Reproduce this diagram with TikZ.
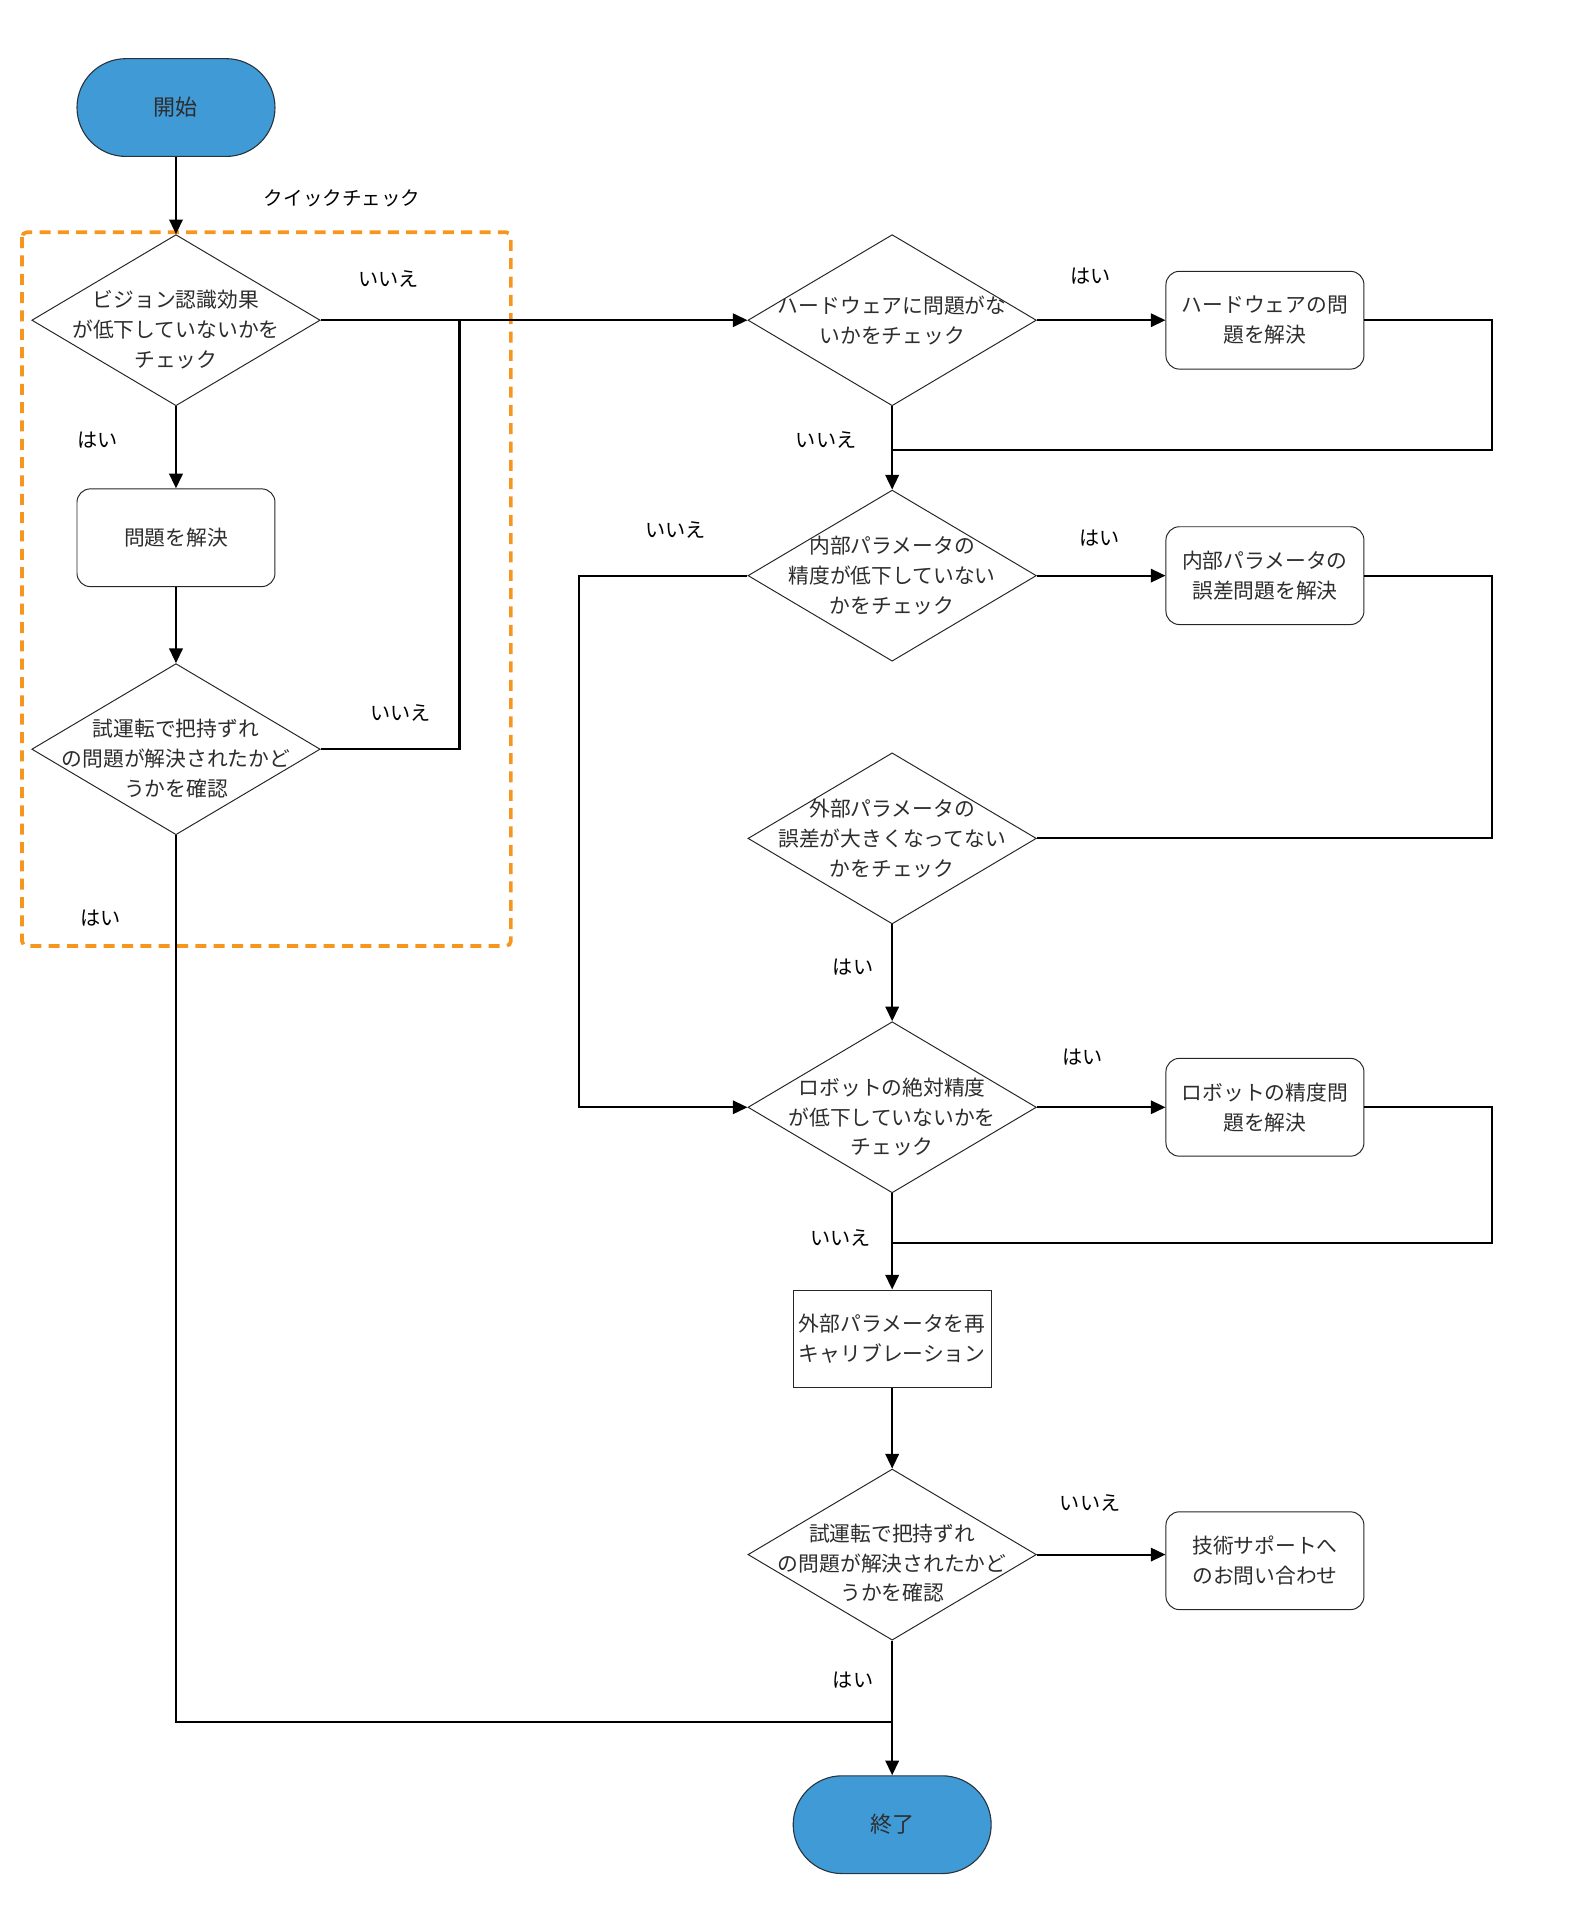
\documentclass[tikz,border=0pt]{standalone}
\usepackage{fontspec}
\setmainfont{Noto Sans CJK JP}
\usetikzlibrary{shapes.geometric,arrows.meta}
\definecolor{termblue}{RGB}{64,154,214}
\definecolor{termedge}{RGB}{40,52,62}
\definecolor{qorange}{RGB}{247,150,30}
\definecolor{txtgray}{RGB}{45,45,45}
\tikzset{
  conn/.style={line width=1.7pt, black},
  arr/.style={conn, -{Triangle[length=12pt,width=11pt]}},
  dia/.style={draw=black!85, line width=0.8pt, diamond, minimum width=236pt, minimum height=140pt, inner sep=0pt, fill=white},
  ntext/.style={align=center, text=txtgray, font=\fontsize{17}{24.5}\selectfont, inner sep=0pt},
  rbox/.style={draw=black!85, line width=0.8pt, rectangle, rounded corners=11pt, minimum width=162pt, minimum height=80pt, align=center, text=txtgray, font=\fontsize{17}{24.5}\selectfont, fill=white},
  sbox/.style={rbox, rounded corners=0pt},
  term/.style={draw=termedge, line width=0.9pt, fill=termblue, rectangle, rounded corners=40pt, minimum width=162pt, minimum height=80pt, text=txtgray, font=\fontsize{18}{24}\selectfont},
  lbl/.style={font=\fontsize{16.5}{20}\selectfont, text=black, inner sep=0pt},
  qbox/.style={draw=qorange, line width=3pt, dash pattern=on 9pt off 6pt, rounded corners=4pt}
}
\begin{document}
\begin{tikzpicture}[x=1pt,y=-1pt]
\useasboundingbox (0,0) rectangle (1300,1571);
% quick check frame
\draw[qbox] (18,190) rectangle (418,774);
\node[lbl, font=\fontsize{16}{20}\selectfont] (qlabel) at (280,162) {クイックチェック};
% nodes
\node[term] (s) at (144,88) {開始};
\node[dia] (d1) at (144,262) {};
\node[ntext] (t1) at ([yshift=-8pt]d1.center) {ビジョン認識効果\\が低下していないかを\\チェック};
\node[rbox] (b1) at (144,440) {問題を解決};
\node[dia] (d3) at (144,613) {};
\node[ntext] (t3) at ([yshift=-8pt]d3.center) {試運転で把持ずれ\\の問題が解決されたかど\\うかを確認};

\node[dia] (d2) at (730,262) {};
\node[ntext] (t2) at (d2.center) {ハードウェアに問題がな\\いかをチェック};
\node[rbox] (b2) at (1035,262) {ハードウェアの問\\題を解決};
\node[dia] (d4) at (730,471) {};
\node[ntext] (t4) at (d4.center) {内部パラメータの\\精度が低下していない\\かをチェック};
\node[rbox] (b3) at (1035,471) {内部パラメータの\\誤差問題を解決};
\node[dia] (d5) at (730,686) {};
\node[ntext] (t5) at (d5.center) {外部パラメータの\\誤差が大きくなってない\\かをチェック};
\node[dia] (d6) at (730,906) {};
\node[ntext] (t6) at ([yshift=-8pt]d6.center) {ロボットの絶対精度\\が低下していないかを\\チェック};
\node[rbox] (b4) at (1035,906) {ロボットの精度問\\題を解決};
\node[sbox] (b5) at (730,1095.5) {外部パラメータを再\\キャリブレーション};
\node[dia] (d7) at (730,1272) {};
\node[ntext] (t7) at ([yshift=-7pt]d7.center) {試運転で把持ずれ\\の問題が解決されたかど\\うかを確認};
\node[rbox] (b6) at (1035,1277) {技術サポートへ\\のお問い合わせ};
\node[term] (e) at (730,1493) {終了};

% helper coordinates
\coordinate (j1) at (376,262);
\coordinate (r1) at (1221,368);
\coordinate (m1) at (730,368);
\coordinate (l1) at (474,471);
\coordinate (r2) at (1221,686);
\coordinate (r3) at (1221,1017);
\coordinate (m3) at (730,1017);
\coordinate (m4) at (730,1409);

% connectors
\draw[arr] (s.south) -- (d1.north);
\draw[arr] (d1.south) -- (b1.north);
\draw[arr] (b1.south) -- (d3.north);
\draw[arr] (d1.east) -- (d2.west);
\draw[conn] (d3.east) -| (j1);
\draw[conn] (d3.south) |- (m4);
\draw[arr] (d2.east) -- (b2.west);
\draw[conn] (b2.east) -| (r1) -- (m1);
\draw[arr] (d2.south) -- (d4.north);
\draw[arr] (d4.east) -- (b3.west);
\draw[conn] (b3.east) -| (r2) -- (d5.east);
\draw[arr] (d4.west) -- (l1) |- (d6.west);
\draw[arr] (d5.south) -- (d6.north);
\draw[arr] (d6.east) -- (b4.west);
\draw[conn] (b4.east) -| (r3) -- (m3);
\draw[arr] (d6.south) -- (b5.north);
\draw[arr] (b5.south) -- (d7.north);
\draw[arr] (d7.east) -- (d7.east -| b6.west);
\draw[arr] (d7.south) -- (e.north);

% branch labels
\node[lbl] (y1) at (318,228) {いいえ};
\node[lbl] (y2) at (80,360) {はい};
\node[lbl] (y3) at (328,583) {いいえ};
\node[lbl] (y4) at (82,751) {はい};
\node[lbl] (y5) at (892,226) {はい};
\node[lbl] (y6) at (676,360) {いいえ};
\node[lbl] (y7) at (900,440) {はい};
\node[lbl] (y8) at (553,434) {いいえ};
\node[lbl] (y9) at (698,791) {はい};
\node[lbl] (y10) at (886,865) {はい};
\node[lbl] (y11) at (688,1013) {いいえ};
\node[lbl] (y12) at (892,1230) {いいえ};
\node[lbl] (y13) at (698,1375) {はい};
\end{tikzpicture}
\end{document}
